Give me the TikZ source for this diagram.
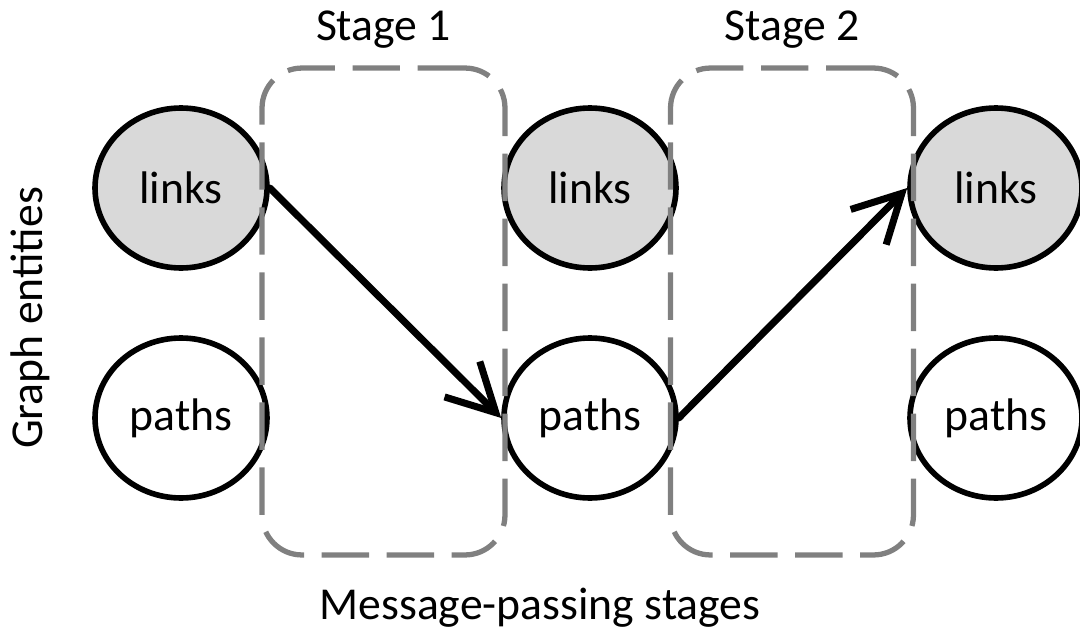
\documentclass[tikz,border=0pt]{standalone}
\usepackage{fontspec}
\setmainfont{Carlito}
\usetikzlibrary{shapes.geometric,arrows.meta}
\tikzset{>={Straight Barb[length=0.95cm,width=1cm,line width=0pt 1]}}

\begin{document}
\begin{tikzpicture}[x=0.02cm,y=-0.02cm,
  every node/.style={font=\fontsize{26}{30}\selectfont},
  entity/.style={ellipse,draw,line width=3.2pt,minimum width=3.44cm,
    minimum height=3.2cm,inner sep=0pt},
  linkent/.style={entity,fill=black!15},
  stagebox/.style={draw=black!50,line width=3pt,
    dash pattern=on 27pt off 10pt,rounded corners=0.8cm,
    minimum width=4.86cm,minimum height=9.74cm,inner sep=0pt},
  flow/.style={->,line width=4pt,line cap=round}]
  \useasboundingbox (0,0) rectangle (1080,639);
  % entities of each stage
  \foreach \N/\X in {a/181,b/590,c/996} {
    \node[linkent] (links\N) at (\X,188) {links};
    \node[entity] (paths\N) at (\X,418) {paths};
  }
  % the two message-passing stages
  \foreach \S/\X in {1/383.5,2/792} {
    \node[stagebox] (stage\S) at (\X,311.5) {};
    \node (title\S) at (\X,30) {Stage \S};
  }
  \draw[flow] (linksa.east) -- (pathsb.west);
  \draw[flow] (pathsb.east) -- (linksc.west);
  \node[rotate=90] (yaxis) at (30,318) {Graph entities};
  \node (xaxis) at (540,608) {Message-passing stages};
\end{tikzpicture}
\end{document}
